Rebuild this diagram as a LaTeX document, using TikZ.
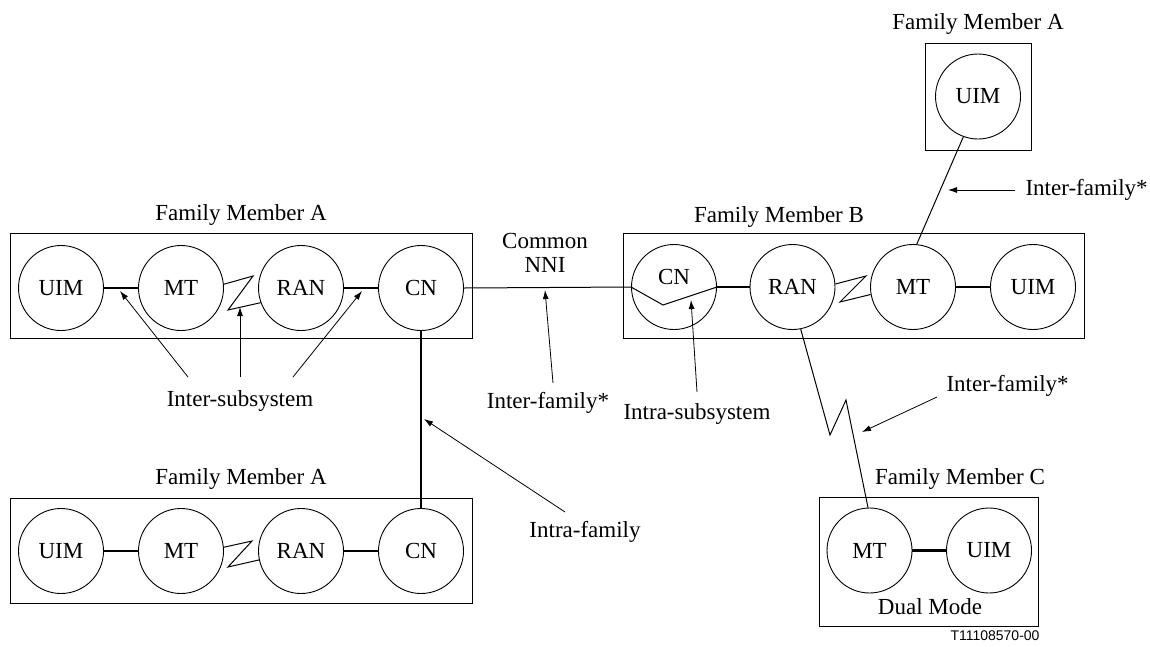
\documentclass[tikz,border=0pt]{standalone}
\usepackage{fontspec}
\setmainfont{Liberation Serif}
\newfontfamily\tagfont{Liberation Sans}
\usetikzlibrary{arrows.meta,calc}
\begin{document}
\begin{tikzpicture}[x=1pt,y=-1pt,
  every node/.style={font=\fontsize{23}{27}\selectfont},
  circ/.style={draw, circle, minimum size=85pt, inner sep=0pt, line width=0.9pt},
  box/.style={draw, line width=1pt, inner sep=0pt},
  thicklink/.style={line width=2.1pt},
  thinlink/.style={line width=1pt},
  vlink/.style={line width=2.8pt},
  pointer/.style={line width=0.8pt, -{Latex[length=9pt,width=6pt]}},
]
\useasboundingbox (0,0) rectangle (1150,646);

% ---------- boxes ----------
\node[box, minimum width=462pt, minimum height=105pt] (boxA1) at (241,285.5) {};
\node[box, minimum width=462pt, minimum height=105pt] (boxA2) at (241,550.5) {};
\node[box, minimum width=461pt, minimum height=105pt] (boxB) at (853.5,285.5) {};
\node[box, minimum width=106pt, minimum height=107pt] (boxA3) at (978,96.5) {};
\node[box, minimum width=219pt, minimum height=129pt] (boxC) at (928.5,561.5) {};

% ---------- titles ----------
\node (tA1) at (241,215) {Family Member A};
\node (tA2) at (241,479) {Family Member A};
\node (tA3) at (978,24) {Family Member A};
\node (tB) at (779,217) {Family Member B};
\node (tC) at (960,479) {Family Member C};
\node (dual) at (930,607) {Dual Mode};

% ---------- circles ----------
\node[circ] (uim1) at (61,288) {UIM};
\node[circ] (mt1) at (181,288) {MT};
\node[circ] (ran1) at (301,288) {RAN};
\node[circ] (cn1) at (421,288) {CN};

\node[circ] (uim2) at (61,551) {UIM};
\node[circ] (mt2) at (181,551) {MT};
\node[circ] (ran2) at (301,551) {RAN};
\node[circ] (cn2) at (421,551) {CN};

\node[circ] (cn3) at (674,287) {};
\node (cn3t) at ([yshift=10pt]cn3.center) {CN};
\node[circ] (ran3) at (792.5,287) {RAN};
\node[circ] (mt3) at (913,287) {MT};
\node[circ] (uim3) at (1033,287) {UIM};

\node[circ] (uim4) at (978,96.5) {UIM};

\node[circ] (mt5) at (869.5,550.5) {MT};
\node[circ] (uim5) at (989,550.5) {UIM};

% ---------- links inside boxes ----------
\draw[thicklink] (uim1) -- (mt1);
\draw[thicklink] (ran1) -- (cn1);
\draw[thicklink] (uim2) -- (mt2);
\draw[thicklink] (ran2) -- (cn2);
\draw[thicklink] (cn3.east) -- (ran3.west);
\draw[thicklink] (mt3) -- (uim3);
\draw[thicklink] (mt5.east) -- (uim5.west);

% radio zigzags
\draw[thinlink] (mt1.5) -- ([shift={(72,-12)}]mt1.center) -- ([shift={(47,22)}]mt1.center) -- (ran1.200);
\draw[thinlink] (mt2.5) -- ([shift={(71,-10)}]mt2.center) -- ([shift={(47,16)}]mt2.center) -- (ran2.192);
\draw[thinlink] (ran3.4) -- ([shift={(73.5,-11)}]ran3.center) -- ([shift={(47.5,15)}]ran3.center) -- (mt3.190);

% ---------- inter-family links ----------
\draw[thinlink] (cn1.east) -- (cn3.west) -- ([shift={(-11,18)}]cn3.center) -- (cn3.east);
\draw[vlink] (cn1.south) -- (cn2.north);
\draw[thinlink] (uim4.250) -- (mt3.85);
\coordinate (zzA) at (830,435);
\coordinate (zzB) at (846,400);
\draw[thinlink] (ran3.281) -- (zzA) -- (zzB) -- (mt5.92);

% ---------- labels ----------
\node (common) at (545,241) {Common};
\node (nni) at (545,265) {NNI};
\node (intersub) at (240,401) {Inter-subsystem};
\node (interfam1) at (548,403) {Inter-family*};
\node (intrasub) at (697,414) {Intra-subsystem};
\node (intrafam) at (585,532) {Intra-family};
\node[anchor=west] (interfam2) at (1022,190) {Inter-family*};
\node[anchor=west] (interfam3) at (943,386) {Inter-family*};
\node[font=\tagfont\fontsize{14}{16}\selectfont] (tag) at (995,636) {T11108570-00};

% ---------- pointer arrows ----------
\coordinate (p1) at (120,291);
\coordinate (p2) at (240,307);
\coordinate (p3) at (362,291);
\coordinate (p4) at (545,290);
\coordinate (p5) at (691,300);
\coordinate (p6) at (424,419);
\coordinate (p7) at (948,190);
\coordinate (p8) at (862,432);
\coordinate (s1) at (188,377);
\coordinate (s2) at (240,377);
\coordinate (s3) at (293,377);
\coordinate (s4) at (553,383);
\coordinate (s5) at (697,392);
\coordinate (s6) at (565,512);
\coordinate (s7) at (1015,190);
\coordinate (s8) at (937,397);
\draw[pointer] (s1) -- (p1);
\draw[pointer] (s2) -- (p2);
\draw[pointer] (s3) -- (p3);
\draw[pointer] (s4) -- (p4);
\draw[pointer] (s5) -- (p5);
\draw[pointer] (s6) -- (p6);
\draw[pointer] (s7) -- (p7);
\draw[pointer] (s8) -- (p8);
\end{tikzpicture}
\end{document}
